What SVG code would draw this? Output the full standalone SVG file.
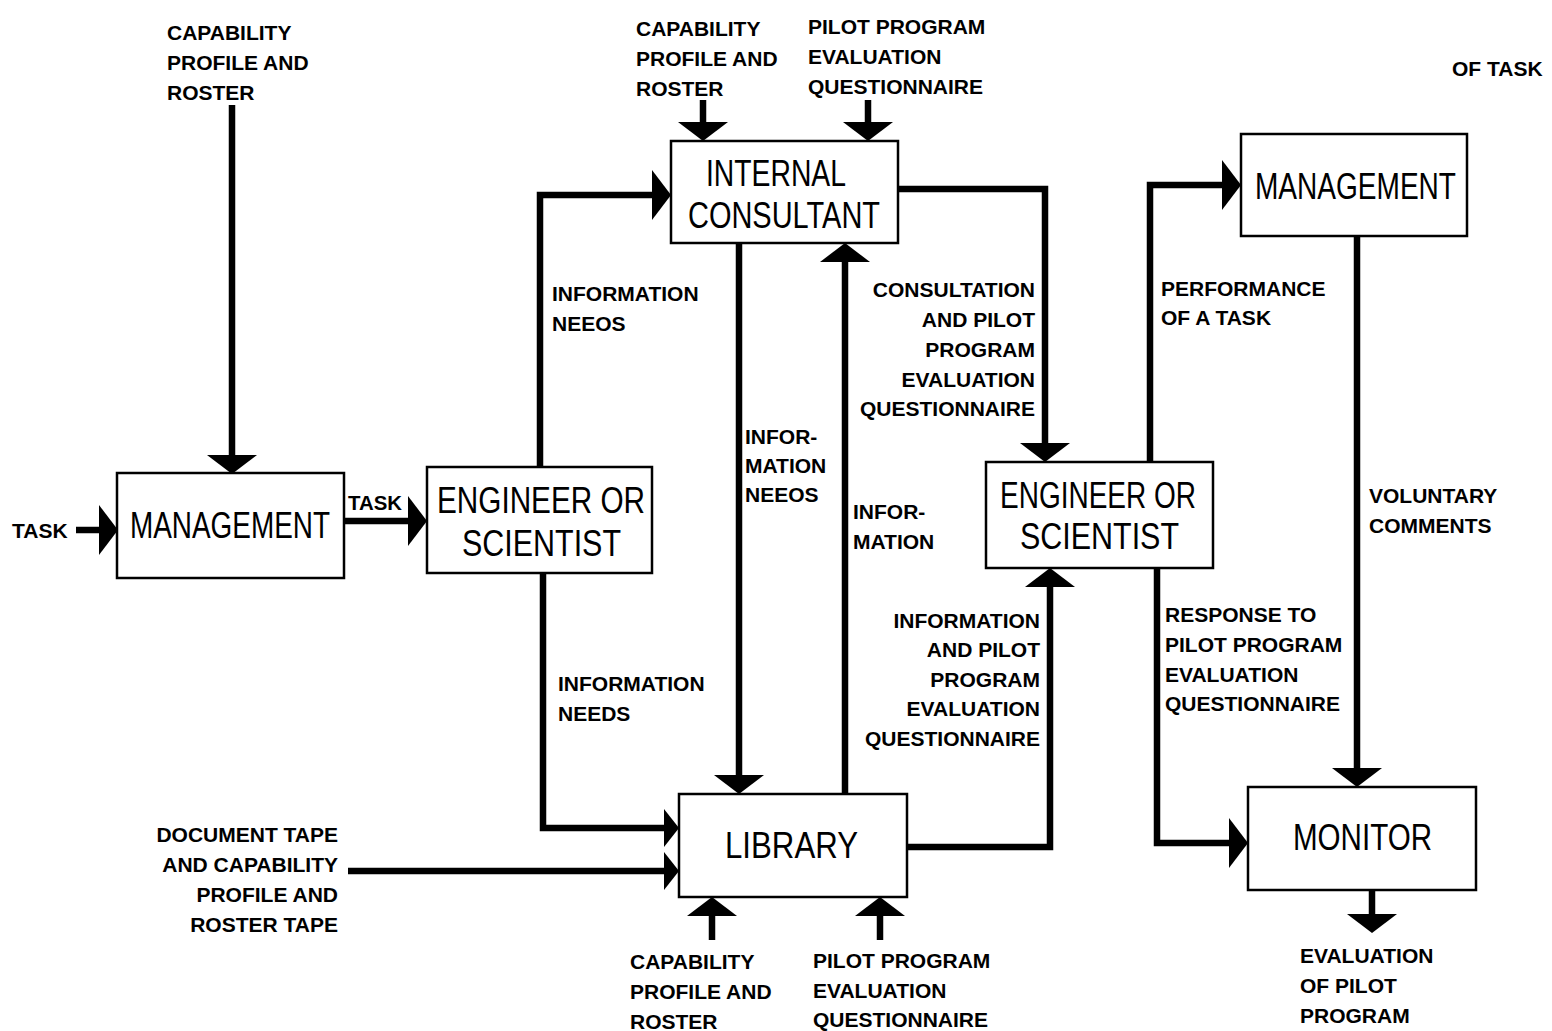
<svg xmlns="http://www.w3.org/2000/svg" width="1552" height="1031" viewBox="0 0 1552 1031">
<style>
.box{fill:#fff;stroke:#000;stroke-width:2.5}
.bt{font-family:"Liberation Sans",Arial,sans-serif;font-size:28px;fill:#000}
.lb{font-family:"Liberation Sans",Arial,sans-serif;font-weight:bold;font-size:21px;fill:#000}
.r{text-anchor:end}
.ln{fill:none;stroke:#000;stroke-width:6.5;stroke-linejoin:miter;marker-end:url(#ah)}
.ls{fill:none;stroke:#000;stroke-width:6.5;marker-end:url(#ahs)}
</style>
<defs>
<marker id="ah" markerUnits="userSpaceOnUse" markerWidth="24" markerHeight="54" viewBox="0 -27 24 54" refX="0" refY="0" orient="auto" overflow="visible">
<path d="M0,-25 L19,0 L0,25 Z" fill="#000"/>
</marker>
<marker id="ahs" markerUnits="userSpaceOnUse" markerWidth="20" markerHeight="40" viewBox="0 -20 20 40" refX="0" refY="0" orient="auto" overflow="visible">
<path d="M0,-19 L15,0 L0,19 Z" fill="#000"/>
</marker>
</defs>
<rect width="1552" height="1031" fill="#fff"/>

<g id="connectors">
<path class="ln" d="M232,105 V455"/>
<path class="ln" d="M76,530 H99"/>
<path class="ln" d="M344,521 H408"/>
<path class="ln" d="M540,467 V195 H652"/>
<path class="ls" d="M543,573 V828 H664"/>
<path class="ls" d="M348,871 H664"/>
<path class="ln" d="M739,243 V775"/>
<path class="ln" d="M845,794 V262"/>
<path class="ln" d="M898,189 H1045 V443"/>
<path class="ln" d="M907,847 H1050 V587"/>
<path class="ln" d="M1150,462 V185 H1222"/>
<path class="ln" d="M1157,568 V843 H1229"/>
<path class="ln" d="M1357,236 V768"/>
<path class="ln" d="M1372,890 V914"/>
<path class="ln" d="M703,100 V122"/>
<path class="ln" d="M868,100 V122"/>
<path class="ln" d="M712,940 V916"/>
<path class="ln" d="M880,940 V916"/>
</g>

<g id="management1"><rect class="box" x="117" y="473" width="227" height="105"/>
<text class="bt" transform="translate(130,538) scale(1,1.35)" textLength="200" lengthAdjust="spacingAndGlyphs">MANAGEMENT</text></g>
<g id="engineer1"><rect class="box" x="427" y="467" width="225" height="106"/>
<text class="bt" transform="translate(437,513) scale(1,1.35)" textLength="208" lengthAdjust="spacingAndGlyphs">ENGINEER OR</text>
<text class="bt" transform="translate(462,556) scale(1,1.35)" textLength="159" lengthAdjust="spacingAndGlyphs">SCIENTIST</text></g>
<g id="consultant"><rect class="box" x="671" y="141" width="227" height="102"/>
<text class="bt" transform="translate(706,186) scale(1,1.35)" textLength="140" lengthAdjust="spacingAndGlyphs">INTERNAL</text>
<text class="bt" transform="translate(688,228) scale(1,1.35)" textLength="192" lengthAdjust="spacingAndGlyphs">CONSULTANT</text></g>
<g id="library"><rect class="box" x="679" y="794" width="228" height="103"/>
<text class="bt" transform="translate(725,858) scale(1,1.35)" textLength="133" lengthAdjust="spacingAndGlyphs">LIBRARY</text></g>
<g id="engineer2"><rect class="box" x="986" y="462" width="227" height="106"/>
<text class="bt" transform="translate(1000,508) scale(1,1.35)" textLength="196" lengthAdjust="spacingAndGlyphs">ENGINEER OR</text>
<text class="bt" transform="translate(1020,549) scale(1,1.35)" textLength="159" lengthAdjust="spacingAndGlyphs">SCIENTIST</text></g>
<g id="management2"><rect class="box" x="1241" y="134" width="226" height="102"/>
<text class="bt" transform="translate(1255,199) scale(1,1.35)" textLength="201" lengthAdjust="spacingAndGlyphs">MANAGEMENT</text></g>
<g id="monitor"><rect class="box" x="1248" y="787" width="228" height="103"/>
<text class="bt" transform="translate(1293,850) scale(1,1.35)" textLength="139" lengthAdjust="spacingAndGlyphs">MONITOR</text></g>

<g id="labels">
<text class="lb" x="167" y="40">CAPABILITY</text>
<text class="lb" x="167" y="70">PROFILE AND</text>
<text class="lb" x="167" y="100">ROSTER</text>
<text class="lb" x="12" y="538">TASK</text>
<text class="lb" x="348" y="510" textLength="54" lengthAdjust="spacingAndGlyphs">TASK</text>
<text class="lb" x="552" y="301">INFORMATION</text>
<text class="lb" x="552" y="331">NEEOS</text>
<text class="lb" x="558" y="691">INFORMATION</text>
<text class="lb" x="558" y="721">NEEDS</text>
<text class="lb r" x="338" y="842">DOCUMENT TAPE</text>
<text class="lb r" x="338" y="872">AND CAPABILITY</text>
<text class="lb r" x="338" y="902">PROFILE AND</text>
<text class="lb r" x="338" y="932">ROSTER TAPE</text>
<text class="lb" x="636" y="36">CAPABILITY</text>
<text class="lb" x="636" y="66">PROFILE AND</text>
<text class="lb" x="636" y="96">ROSTER</text>
<text class="lb" x="808" y="34">PILOT PROGRAM</text>
<text class="lb" x="808" y="64">EVALUATION</text>
<text class="lb" x="808" y="94">QUESTIONNAIRE</text>
<text class="lb" x="745" y="444">INFOR-</text>
<text class="lb" x="745" y="473">MATION</text>
<text class="lb" x="745" y="502">NEEOS</text>
<text class="lb" x="853" y="519">INFOR-</text>
<text class="lb" x="853" y="549">MATION</text>
<text class="lb r" x="1035" y="297">CONSULTATION</text>
<text class="lb r" x="1035" y="327">AND PILOT</text>
<text class="lb r" x="1035" y="357">PROGRAM</text>
<text class="lb r" x="1035" y="387">EVALUATION</text>
<text class="lb r" x="1035" y="416">QUESTIONNAIRE</text>
<text class="lb r" x="1040" y="628">INFORMATION</text>
<text class="lb r" x="1040" y="657">AND PILOT</text>
<text class="lb r" x="1040" y="687">PROGRAM</text>
<text class="lb r" x="1040" y="716">EVALUATION</text>
<text class="lb r" x="1040" y="746">QUESTIONNAIRE</text>
<text class="lb" x="1161" y="296">PERFORMANCE</text>
<text class="lb" x="1161" y="325">OF A TASK</text>
<text class="lb" x="1165" y="622">RESPONSE TO</text>
<text class="lb" x="1165" y="652">PILOT PROGRAM</text>
<text class="lb" x="1165" y="682">EVALUATION</text>
<text class="lb" x="1165" y="711">QUESTIONNAIRE</text>
<text class="lb" x="1369" y="503">VOLUNTARY</text>
<text class="lb" x="1369" y="533">COMMENTS</text>
<text class="lb" x="1300" y="963">EVALUATION</text>
<text class="lb" x="1300" y="993">OF PILOT</text>
<text class="lb" x="1300" y="1023">PROGRAM</text>
<text class="lb" x="630" y="969">CAPABILITY</text>
<text class="lb" x="630" y="999">PROFILE AND</text>
<text class="lb" x="630" y="1029">ROSTER</text>
<text class="lb" x="813" y="968">PILOT PROGRAM</text>
<text class="lb" x="813" y="998">EVALUATION</text>
<text class="lb" x="813" y="1027">QUESTIONNAIRE</text>
<text class="lb" x="1452" y="76">OF TASK</text>
</g>
</svg>
